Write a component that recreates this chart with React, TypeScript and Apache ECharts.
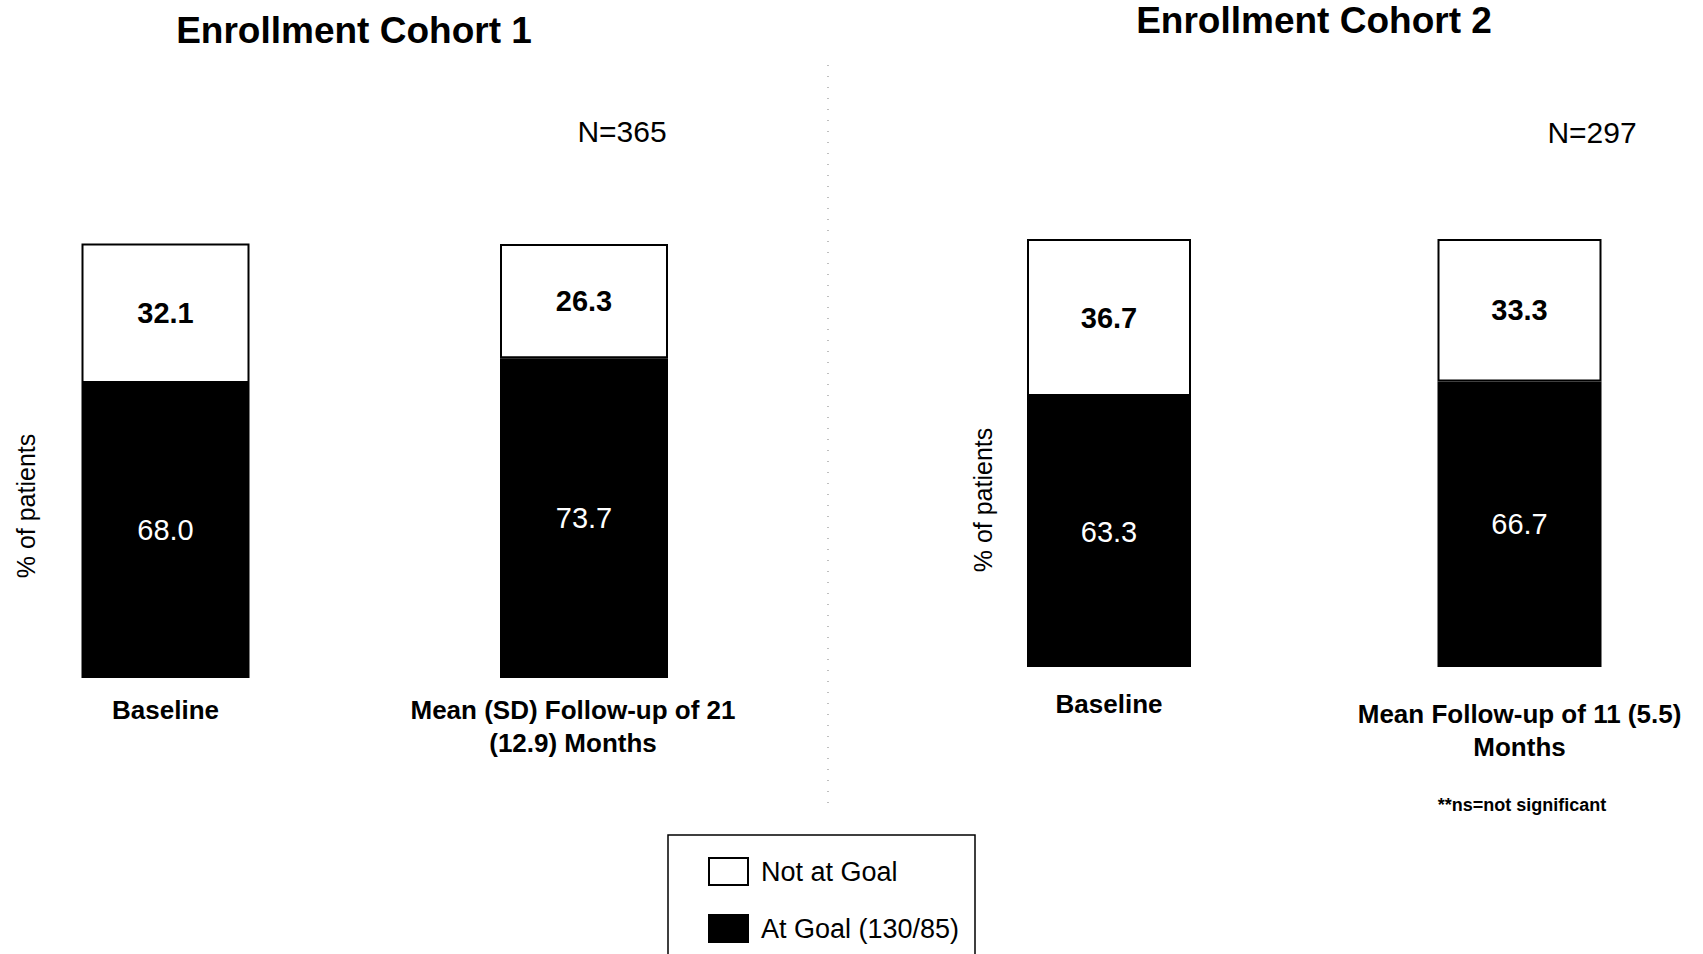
import React, { useEffect, useRef } from "react";
import * as echarts from "echarts";

const categories1 = ["Baseline", "Mean (SD) Follow-up of 21\n(12.9) Months"];
const categories2 = ["Baseline", "Mean Follow-up of 11 (5.5)\nMonths"];
const atGoal1 = [68.0, 73.7];
const notAtGoal1 = [32.1, 26.3];
const atGoal2 = [63.3, 66.7];
const notAtGoal2 = [36.7, 33.3];
const titles = ["Enrollment Cohort 1", "Enrollment Cohort 2"];
const nLabels = ["N=365", "N=297"];
const seriesNames = ["Not at Goal", "At Goal (130/85)"];
const yName = "% of patients";
const footnote = "**ns=not significant";

const FONT = "'Liberation Sans', Arial, Helvetica, sans-serif";

export default function App() {
  const ref = useRef<HTMLDivElement>(null);
  useEffect(() => {
    if (!ref.current) return;
    const chart = echarts.init(ref.current, null, { renderer: "svg" });
    const fmt = (p: any) => Number(p.value).toFixed(1);
    const atStyle = { color: "#000", borderColor: "#000", borderWidth: 2 };
    const notStyle = { color: "#fff", borderColor: "#000", borderWidth: 2 };
    const atLabel = {
      show: true,
      position: "inside",
      formatter: fmt,
      color: "#fff",
      fontSize: 29,
      fontFamily: FONT,
      fontWeight: "normal",
    };
    const notLabel = {
      show: true,
      position: "inside",
      formatter: fmt,
      color: "#000",
      fontSize: 29,
      fontFamily: FONT,
      fontWeight: "bold",
    };
    const xAxisBase = {
      type: "category",
      boundaryGap: false,
      axisLine: { show: false },
      axisTick: { show: false },
      splitLine: { show: false },
      axisLabel: {
        color: "#000",
        fontSize: 26,
        fontWeight: "bold",
        fontFamily: FONT,
        lineHeight: 33,
        interval: 0,
      },
    };
    const yAxisBase = { type: "value", min: 0, max: 100, show: false };
    const option: any = {
      animation: false,
      backgroundColor: "#fff",
      textStyle: { fontFamily: FONT, color: "#000" },
      grid: [
        { left: 165.5, width: 418.5, top: 244, height: 434 },
        { left: 1109, width: 410.5, top: 239, height: 428 },
      ],
      xAxis: [
        {
          ...xAxisBase,
          gridIndex: 0,
          data: [
            categories1[0],
            { value: categories1[1], textStyle: { padding: [0, 22, 0, 0] } },
          ],
          axisLabel: { ...xAxisBase.axisLabel, margin: 15 },
        },
        {
          ...xAxisBase,
          gridIndex: 1,
          data: [
            categories2[0],
            { value: categories2[1], textStyle: { padding: [10, 0, 0, 0] } },
          ],
          axisLabel: { ...xAxisBase.axisLabel, margin: 20 },
        },
      ],
      yAxis: [
        { ...yAxisBase, gridIndex: 0 },
        { ...yAxisBase, gridIndex: 1 },
      ],
      legend: {
        orient: "vertical",
        left: 667,
        top: 835,
        height: 110,
        data: [seriesNames[0], seriesNames[1]],
        icon: "rect",
        itemWidth: 39,
        itemHeight: 27,
        itemGap: 28,
        padding: [22, 22, 5, 41],
        borderWidth: 0,
        textStyle: {
          color: "#000",
          fontSize: 27,
          fontFamily: FONT,
          padding: [0, 0, 0, 8],
        },
      },
      series: [
        {
          name: seriesNames[1],
          type: "bar",
          stack: "c1",
          xAxisIndex: 0,
          yAxisIndex: 0,
          data: atGoal1,
          barWidth: 168,
          clip: false,
          itemStyle: atStyle,
          label: atLabel,
        },
        {
          name: seriesNames[0],
          type: "bar",
          stack: "c1",
          xAxisIndex: 0,
          yAxisIndex: 0,
          data: notAtGoal1,
          barWidth: 168,
          clip: false,
          itemStyle: notStyle,
          label: notLabel,
        },
        {
          name: seriesNames[1],
          type: "bar",
          stack: "c2",
          xAxisIndex: 1,
          yAxisIndex: 1,
          data: atGoal2,
          barWidth: 164,
          clip: false,
          itemStyle: atStyle,
          label: atLabel,
        },
        {
          name: seriesNames[0],
          type: "bar",
          stack: "c2",
          xAxisIndex: 1,
          yAxisIndex: 1,
          data: notAtGoal2,
          barWidth: 164,
          clip: false,
          itemStyle: notStyle,
          label: notLabel,
        },
      ],
      graphic: [
        {
          type: "rect",
          shape: { x: 668, y: 835, width: 307, height: 200 },
          style: { fill: "none", stroke: "#000", lineWidth: 1.5 },
          z: 0,
        },
        {
          type: "text",
          x: 354,
          y: 30,
          style: {
            text: titles[0],
            fontSize: 37,
            fontWeight: "bold",
            fontFamily: FONT,
            fill: "#000",
            textAlign: "center",
            textVerticalAlign: "middle",
          },
        },
        {
          type: "text",
          x: 1314,
          y: 20,
          style: {
            text: titles[1],
            fontSize: 37,
            fontWeight: "bold",
            fontFamily: FONT,
            fill: "#000",
            textAlign: "center",
            textVerticalAlign: "middle",
          },
        },
        {
          type: "text",
          x: 622,
          y: 131,
          style: {
            text: nLabels[0],
            fontSize: 30,
            fontFamily: FONT,
            fill: "#000",
            textAlign: "center",
            textVerticalAlign: "middle",
          },
        },
        {
          type: "text",
          x: 1592,
          y: 132,
          style: {
            text: nLabels[1],
            fontSize: 30,
            fontFamily: FONT,
            fill: "#000",
            textAlign: "center",
            textVerticalAlign: "middle",
          },
        },
        {
          type: "text",
          x: 26,
          y: 506,
          rotation: Math.PI / 2,
          style: {
            text: yName,
            fontSize: 25,
            fontFamily: FONT,
            fill: "#000",
            textAlign: "center",
            textVerticalAlign: "middle",
          },
        },
        {
          type: "text",
          x: 983,
          y: 500,
          rotation: Math.PI / 2,
          style: {
            text: yName,
            fontSize: 25,
            fontFamily: FONT,
            fill: "#000",
            textAlign: "center",
            textVerticalAlign: "middle",
          },
        },
        {
          type: "text",
          x: 1522,
          y: 805,
          style: {
            text: footnote,
            fontSize: 18,
            fontWeight: "bold",
            fontFamily: FONT,
            fill: "#000",
            textAlign: "center",
            textVerticalAlign: "middle",
          },
        },
        {
          type: "line",
          shape: { x1: 828, y1: 65, x2: 828, y2: 805 },
          style: { stroke: "#aaa", lineWidth: 1.5, lineDash: [1, 10] },
        },
      ],
    };
    chart.setOption(option);
    return () => chart.dispose();
  }, []);
  return (
    <div
      ref={ref}
      style={{
        position: "fixed",
        left: 0,
        top: 0,
        width: 1703,
        height: 954,
        background: "#fff",
      }}
    />
  );
}
